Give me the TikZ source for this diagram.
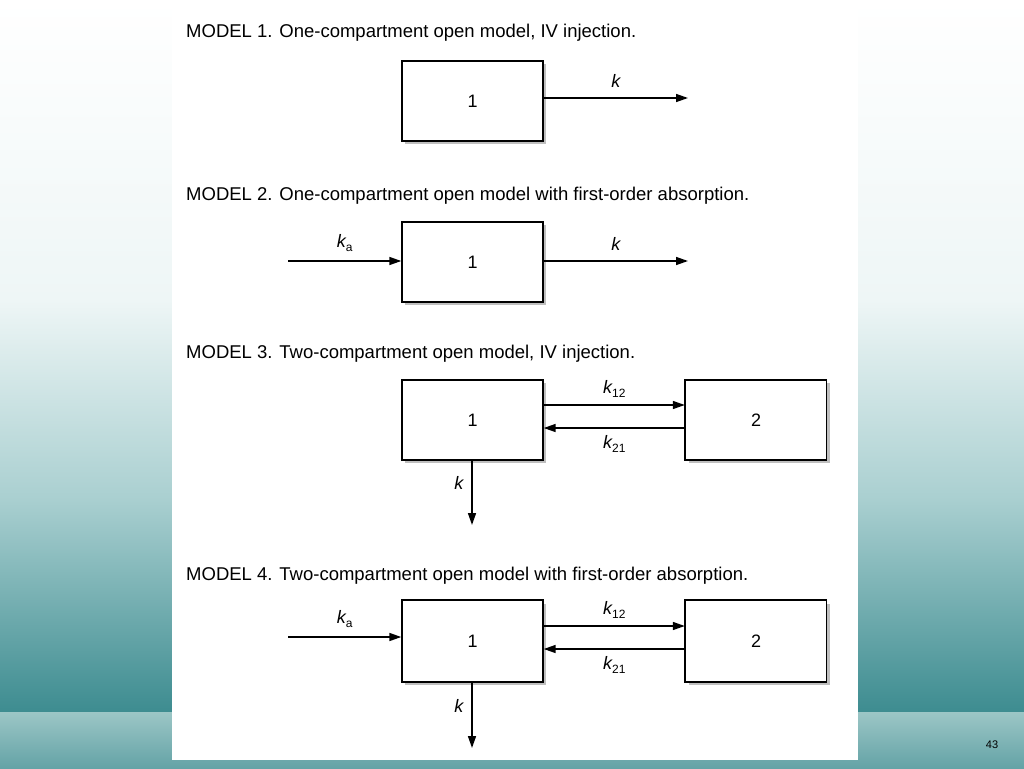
\documentclass[tikz,border=0pt]{standalone}
\usepackage{fontspec}
\setmainfont{Liberation Sans}
\usetikzlibrary{arrows.meta}
\definecolor{tealA}{HTML}{EEF6F6}
\definecolor{tealB}{HTML}{A9CFD0}
\definecolor{tealC}{HTML}{3D8C90}
\definecolor{tealD}{HTML}{9CC6C6}
\newcommand{\sbs}[1]{\raisebox{-0.35ex}{\fontsize{12}{12}\selectfont\upshape #1}}
\begin{document}
\begin{tikzpicture}[x=1pt,y=-1pt,
  comp/.style={draw,line width=1.4pt,fill=white,minimum width=141pt,minimum height=80pt,inner sep=0pt,font=\fontsize{18}{18}\selectfont},
  arr/.style={-{Triangle[length=12pt,width=8pt]},line width=1.5pt},
  ttl/.style={anchor=west,font=\fontsize{18.5}{18.5}\selectfont,inner sep=0pt},
  lab/.style={font=\fontsize{18}{18}\selectfont\itshape,inner sep=0pt}]
\useasboundingbox (0,0) rectangle (1024,768);
\shade[top color=white,bottom color=tealA] (0,0) rectangle (1024,300);
\shade[top color=tealA,bottom color=tealB] (0,300) rectangle (1024,500);
\shade[top color=tealB,bottom color=tealC] (0,500) rectangle (1024,712);
\shade[top color=tealD,bottom color=tealC!80] (0,712) rectangle (1024,768);
\fill[white] (172,0) rectangle (858,760);
\node[font=\fontsize{11}{11}\selectfont] (pg) at (992,745) {43};
% Model 1
\node[ttl] (t1) at (186,33) {MODEL 1. One-compartment open model, IV injection.};
\fill[gray!50] (405,64) rectangle (546,144);
\node[comp] (a1) at (472.5,101) {1};
\coordinate (e1) at (688,98);
\draw[arr] (a1.east |- e1) -- (e1) node[lab,midway,above=10pt] {k};
% Model 2
\node[ttl] (t2) at (186,196) {MODEL 2. One-compartment open model with first-order absorption.};
\fill[gray!50] (405,225) rectangle (546,305);
\node[comp] (a2) at (472.5,262) {1};
\coordinate (s2) at (288,261);
\coordinate (e2) at (688,261);
\draw[arr] (s2) -- (a2.west |- s2) node[lab,midway,above=9pt] {k\sbs{a}};
\draw[arr] (a2.east |- e2) -- (e2) node[lab,midway,above=10pt] {k};
% Model 3
\node[ttl] (t3) at (186,354) {MODEL 3. Two-compartment open model, IV injection.};
\fill[gray!50] (405,383) rectangle (546,463);
\fill[gray!50] (689,383) rectangle (830,463);
\coordinate (u3) at (600,405);
\coordinate (l3) at (600,428);
\coordinate (d3) at (472,525);
\node[comp] (a3) at (472.5,420) {1};
\node[comp] (b3) at (756,420) {2};
\draw[arr] (a3.east |- u3) -- (b3.west |- u3) node[lab,midway,above=7pt] {k\sbs{12}};
\draw[arr] (b3.west |- l3) -- (a3.east |- l3) node[lab,midway,below=7pt] {k\sbs{21}};
\draw[arr] (a3.south -| d3) -- (d3) node[lab,pos=0.35,left=8pt] {k};
\draw[line width=1.4pt] (b3.north west) -- (b3.south west);
% Model 4
\node[ttl] (t4) at (186,576) {MODEL 4. Two-compartment open model with first-order absorption.};
\fill[gray!50] (405,604) rectangle (546,685);
\fill[gray!50] (689,604) rectangle (830,685);
\node[comp,minimum height=82pt] (a4) at (472.5,641) {1};
\node[comp,minimum height=82pt] (b4) at (756,641) {2};
\coordinate (s4) at (288,637);
\coordinate (u4) at (600,626);
\coordinate (l4) at (600,649);
\coordinate (d4) at (472,748);
\draw[arr] (s4) -- (a4.west |- s4) node[lab,midway,above=9pt] {k\sbs{a}};
\draw[arr] (a4.east |- u4) -- (b4.west |- u4) node[lab,midway,above=7pt] {k\sbs{12}};
\draw[arr] (b4.west |- l4) -- (a4.east |- l4) node[lab,midway,below=7pt] {k\sbs{21}};
\draw[arr] (a4.south -| d4) -- (d4) node[lab,pos=0.35,left=8pt] {k};
\draw[line width=1.4pt] (b4.north west) -- (b4.south west);
\end{tikzpicture}
\end{document}
